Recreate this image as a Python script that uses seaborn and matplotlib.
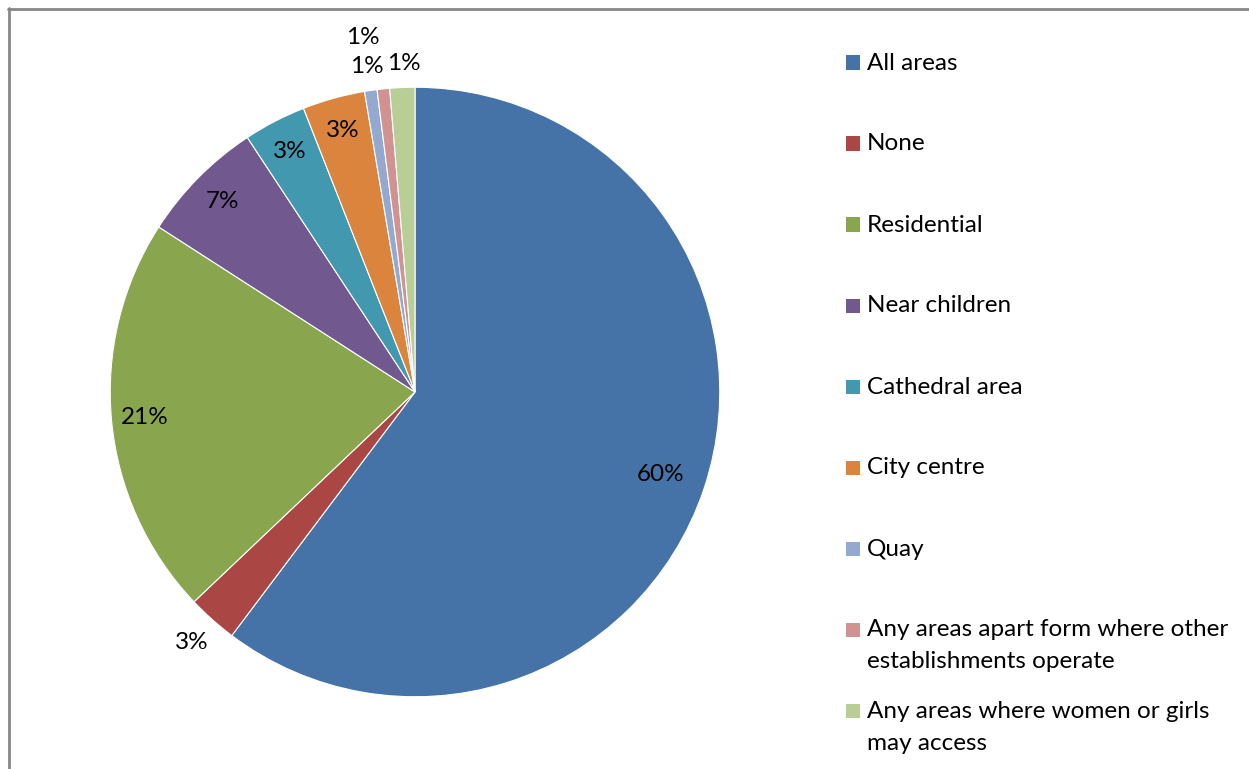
import matplotlib
matplotlib.use("Agg")
import matplotlib.pyplot as plt
from matplotlib.lines import Line2D
from matplotlib.patches import Rectangle
import numpy as np
import seaborn as sns

# Survey responses: where should this be allowed
categories = [
    "All areas",
    "None",
    "Residential",
    "Near children",
    "Cathedral area",
    "City centre",
    "Quay",
    "Any areas apart form where other\nestablishments operate",
    "Any areas where women or girls\nmay access",
]
responses = [91, 4, 32, 10, 5, 5, 1, 1, 2]

colors = ["#4572A7", "#AA4643", "#89A54E", "#71588F", "#4198AF",
          "#DB843D", "#93A9CF", "#D19392", "#B9CD96"]

sns.set_theme(style="white")
plt.rcParams["font.family"] = ["Lato", "DejaVu Sans"]

W, H = 1249, 769
FS = 17.5
fig = plt.figure(figsize=(W / 100, H / 100), dpi=100)
fig.patch.set_facecolor("white")

# pie axes: centre (415, 392) px, radius ~305 px
cx, cy, half = 415, 392, 320
ax = fig.add_axes([(cx - half) / W, (H - cy - half) / H, 2 * half / W, 2 * half / H])

wedges, _ = ax.pie(
    responses, colors=colors, startangle=90, counterclock=False,
    radius=1.0, wedgeprops=dict(edgecolor="white", linewidth=0.8),
)
ax.set_xlim(-1.05, 1.05)
ax.set_ylim(-1.05, 1.05)
ax.set_aspect("equal")
ax.axis("off")

total = sum(responses)
# radial position of each percentage label (fraction of radius)
label_r = [0.85, 1.10, 0.89, 0.89, 0.89, 0.89, 1.08, 1.17, 1.08]
label_dx = [0, 0, 0, 0, 0, 0, 0, -0.05, 0.01]
for w, v, r, dx in zip(wedges, responses, label_r, label_dx):
    mid = np.deg2rad((w.theta1 + w.theta2) / 2)
    ax.text(r * np.cos(mid) + dx, r * np.sin(mid), f"{v / total:.0%}",
            ha="center", va="center", fontsize=FS, color="black")

# legend entries
base0, step, line_h = 69.5, 81, 32
for i, (lab, col) in enumerate(zip(categories, colors)):
    b = base0 + i * step
    fig.patches.append(Rectangle((846 / W, (H - b) / H), 14 / W, 14 / H,
                                 transform=fig.transFigure, facecolor=col,
                                 edgecolor="none"))
    for j, line in enumerate(lab.split("\n")):
        fig.text(867 / W, (H - b - j * line_h) / H, line, ha="left",
                 va="baseline", fontsize=FS, color="black",
                 transform=fig.transFigure)

# chart frame (top and left edges)
frame = dict(color="#878787", linewidth=2, transform=fig.transFigure)
fig.add_artist(Line2D([8 / W, 1.0], [(H - 9) / H, (H - 9) / H], **frame))
fig.add_artist(Line2D([9 / W, 9 / W], [0, (H - 8) / H], **frame))

fig.savefig("out.png", dpi=100, facecolor="white")
